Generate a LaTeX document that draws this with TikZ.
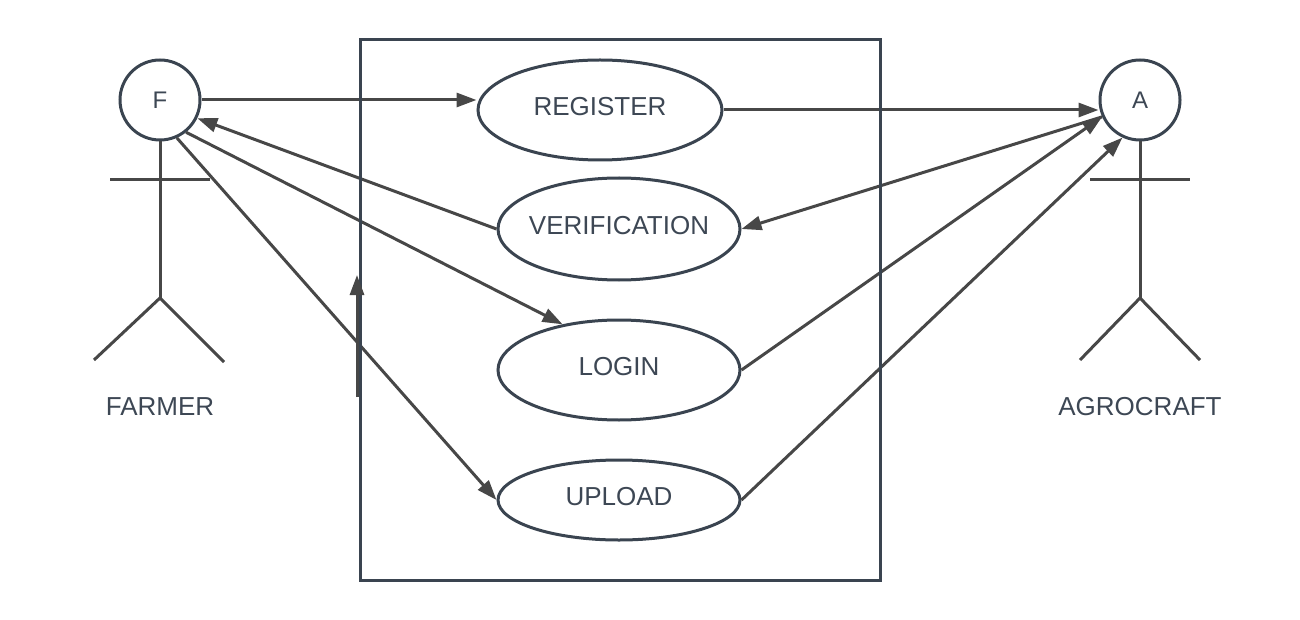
\documentclass[tikz,border=0pt]{standalone}
\usepackage{fontspec}
\setmainfont{Liberation Sans}
\usetikzlibrary{arrows.meta,shapes.geometric}
\definecolor{slate}{HTML}{3A4450}
\definecolor{linegray}{HTML}{474747}
\definecolor{txt}{HTML}{3D4754}
\newcommand{\uctext}[1]{\makebox[0pt]{#1}}
\begin{document}
\begin{tikzpicture}[x=1pt,y=-1pt,
  usecase/.style={ellipse,draw=slate,line width=3pt,fill=white,inner sep=0pt,
    minimum width=242pt,minimum height=100pt,text=txt,font=\fontsize{26}{26}\selectfont,text depth=8pt},
  actorhead/.style={circle,draw=slate,line width=3pt,fill=white,inner sep=0pt,
    minimum size=80pt,text=txt,font=\fontsize{24}{24}\selectfont},
  actorname/.style={text=txt,font=\fontsize{26}{26}\selectfont,inner sep=0pt},
  stick/.style={draw=linegray,line width=3pt},
  arr/.style={draw=linegray,line width=3pt,-{Triangle[length=20pt,width=14pt]}},
  sysbox/.style={draw=slate,line width=3pt}]
\useasboundingbox (0,0) rectangle (1300,620);
% actors
\node[actorhead] (F) at (160,100) {F};
\node[actorhead] (A) at (1140,100) {A};
\coordinate (Fhip) at (160,298);
\coordinate (Farml) at (110,180);
\coordinate (Farmr) at (210,180);
\coordinate (Flegl) at (94,360);
\coordinate (Flegr) at (224,362);
\coordinate (Ahip) at (1140,298);
\coordinate (Aarml) at (1090,180);
\coordinate (Aarmr) at (1190,180);
\coordinate (Alegl) at (1080,360);
\coordinate (Alegr) at (1200,360);
\draw[stick] (F.south) -- (Fhip);
\draw[stick] (Farml) -- (Farmr);
\draw[stick] (Flegl) -- (Fhip) -- (Flegr);
\draw[stick] (A.south) -- (Ahip);
\draw[stick] (Aarml) -- (Aarmr);
\draw[stick] (Alegl) -- (Ahip) -- (Alegr);
\node[actorname] (Fname) at (160,407) {FARMER};
\node[actorname] (Aname) at (1140,407) {AGROCRAFT};
% use cases
\node[usecase,minimum width=244pt] (REG) at (600,110) {\uctext{REGISTER}};
\node[usecase,minimum height=102pt] (VER) at (619,229) {\uctext{VERIFICATION}};
\node[usecase] (LOG) at (619,370) {\uctext{LOGIN}};
\node[usecase,minimum height=80pt] (UPL) at (619,500) {\uctext{UPLOAD}};
% connectors
\draw[arr] (F.east) -- (F.east -| REG.west);
\draw[arr] (REG.east) -- (REG.east -| A.west);
\draw[arr] (VER.west) -- (F.-26);
\draw[arr] (F.-51) -- (LOG.141);
\draw[arr] (F.-66) -- (UPL.west);
\draw[arr] (A.204) -- (VER.east);
\draw[arr] (LOG.east) -- (A.204);
\draw[arr] (UPL.east) -- (A.245);
% system boundary
\draw[sysbox] (360,40) rectangle (880,580);
% stray arrow on the boundary
\coordinate (s0) at (357,397);
\coordinate (s1) at (357,275);
\draw[arr] (s0) -- (s1);
\end{tikzpicture}
\end{document}
